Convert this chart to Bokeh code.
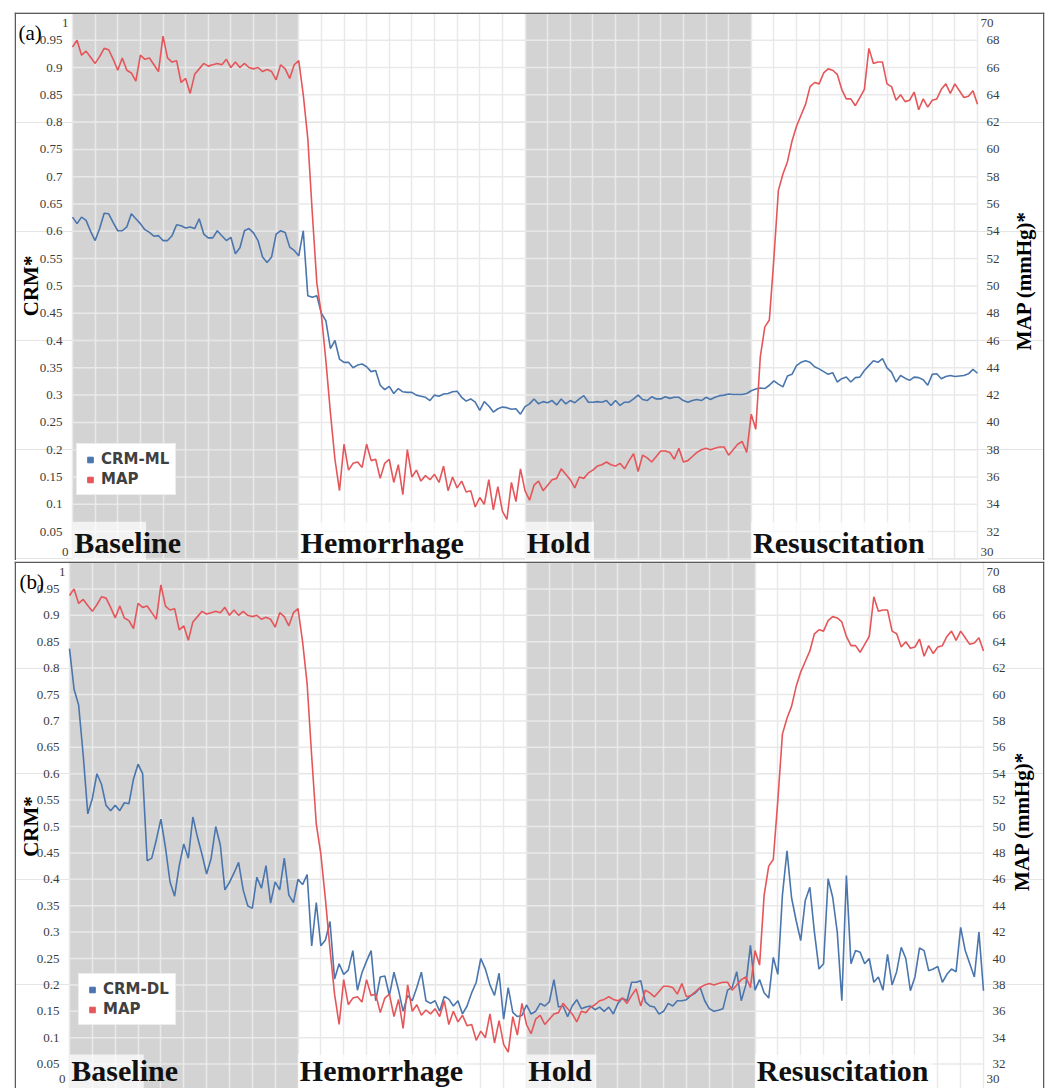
import numpy as np
from bokeh.plotting import figure
from bokeh.models import Range1d, LinearAxis, FixedTicker, Grid, Label, Legend, LegendItem, Span
from bokeh.layouts import column
from bokeh.embed import file_html
from bokeh.resources import INLINE
from bokeh.core.properties import value

# ---------------- data ----------------
phase_names = ["Baseline", "Hemorrhage", "Hold", "Resuscitation"]
phase_start = [0, 10, 20, 30]
phase_end = [10, 20, 30, 40]
phase_shaded = [True, False, True, False]

map_mmhg = [
    67.5, 68.0, 66.9, 67.2, 66.75, 66.3, 66.8, 67.4, 67.3, 66.6,
    65.8, 66.7, 65.8, 65.6, 65.0, 66.9, 66.6, 66.7, 66.2, 65.7,
    68.3, 66.7, 66.4, 66.5, 64.9, 65.2, 64.1, 65.5, 65.9, 66.3,
    66.1, 66.2, 66.3, 66.2, 66.6, 66.0, 66.4, 66.0, 66.3, 66.0,
    65.9, 66.0, 65.7, 65.85, 65.7, 65.1, 66.2, 65.9, 65.2, 66.2,
    66.5,
    64.0, 60.8, 55.3, 50.2, 47.9, 44.5, 40.7, 37.3, 35.0, 38.4,
    36.5, 37.0, 37.1, 36.7, 38.4, 37.2, 37.3, 35.9, 37.0, 37.3,
    35.6, 36.9, 34.7, 38.0, 36.0, 36.5, 35.7, 36.1, 35.8, 36.2,
    35.6, 36.8, 35.0, 36.0, 35.2, 35.7, 34.9, 35.0, 33.8, 34.5,
    34.0, 35.8, 33.6, 35.3, 33.5, 32.9, 35.6, 34.2, 36.6, 35.0,
    34.3, 35.4, 35.7, 35.0, 35.4, 35.8, 35.9, 36.6, 36.2, 35.8,
    35.2, 36.0, 35.9, 36.3, 36.5, 36.8, 36.9, 37.1, 36.9, 36.8,
    37.0, 36.6, 37.2, 37.7, 36.4, 37.6, 37.4, 37.1, 37.5, 37.9,
    37.9, 37.8, 37.3, 38.1, 37.1, 37.2, 37.5, 37.8, 38.0, 38.1,
    38.0, 38.1, 38.2, 38.2, 37.6, 38.0, 38.4, 38.6, 37.8, 40.6,
    39.5, 44.8, 47.0, 47.5, 52.0, 57.0, 58.2, 59.1, 60.6, 61.7,
    62.5, 63.3, 64.6, 64.9, 64.8, 65.6, 65.9, 65.8, 65.5, 64.4,
    63.7, 63.7, 63.2, 63.8, 64.4, 67.4, 66.3, 66.4, 66.4, 64.8,
    64.6, 63.6, 64.0, 63.5, 63.6, 64.2, 62.9, 63.7, 63.1, 63.6,
    63.7, 64.4, 64.8, 64.1, 64.8, 64.3, 63.8, 63.9, 64.3, 63.3,
]

crm_ml = [
    0.626, 0.614, 0.626, 0.620, 0.600, 0.583, 0.605, 0.633, 0.632, 0.616,
    0.601, 0.601, 0.608, 0.632, 0.623, 0.614, 0.603, 0.598, 0.591, 0.592,
    0.583, 0.583, 0.592, 0.612, 0.610, 0.606, 0.608, 0.605, 0.623, 0.595,
    0.588, 0.588, 0.601, 0.592, 0.583, 0.589, 0.559, 0.570, 0.601, 0.605,
    0.597, 0.583, 0.553, 0.543, 0.553, 0.595, 0.601, 0.598, 0.571, 0.565,
    0.555,
    0.601, 0.482, 0.479, 0.482, 0.450, 0.436, 0.385, 0.400, 0.366, 0.360,
    0.360, 0.350, 0.355, 0.357, 0.352, 0.343, 0.345, 0.318, 0.310, 0.316,
    0.303, 0.312, 0.306, 0.305, 0.305, 0.300, 0.298, 0.296, 0.290, 0.300,
    0.298, 0.302, 0.303, 0.306, 0.307, 0.296, 0.289, 0.293, 0.287, 0.272,
    0.288, 0.280, 0.269, 0.275, 0.278, 0.277, 0.274, 0.275, 0.265, 0.279,
    0.284, 0.293, 0.284, 0.288, 0.286, 0.290, 0.282, 0.293, 0.284, 0.290,
    0.286, 0.293, 0.299, 0.287, 0.287, 0.288, 0.287, 0.290, 0.281, 0.290,
    0.281, 0.287, 0.287, 0.293, 0.300, 0.292, 0.290, 0.297, 0.293, 0.293,
    0.297, 0.294, 0.296, 0.296, 0.290, 0.287, 0.290, 0.292, 0.290, 0.296,
    0.292, 0.296, 0.299, 0.300, 0.302, 0.301, 0.301, 0.301, 0.303, 0.308,
    0.311, 0.313, 0.312, 0.318, 0.326, 0.320, 0.315, 0.335, 0.338, 0.354,
    0.360, 0.363, 0.360, 0.352, 0.348, 0.343, 0.338, 0.341, 0.324, 0.330,
    0.333, 0.324, 0.332, 0.333, 0.345, 0.354, 0.363, 0.360, 0.367, 0.350,
    0.342, 0.324, 0.336, 0.331, 0.327, 0.333, 0.332, 0.328, 0.318, 0.338,
    0.339, 0.330, 0.334, 0.336, 0.334, 0.335, 0.336, 0.339, 0.347, 0.340,
]

crm_dl = [
    0.837, 0.760, 0.730, 0.635, 0.524, 0.553, 0.600, 0.580, 0.540, 0.530,
    0.540, 0.530, 0.545, 0.543, 0.590, 0.618, 0.600, 0.435, 0.440, 0.475,
    0.514, 0.460, 0.395, 0.368, 0.425, 0.467, 0.440, 0.518, 0.480, 0.447,
    0.410, 0.440, 0.500, 0.465, 0.380, 0.394, 0.412, 0.432, 0.380, 0.350,
    0.345, 0.404, 0.383, 0.426, 0.355, 0.395, 0.380, 0.440, 0.370, 0.356,
    0.400,
    0.390, 0.409, 0.274, 0.356, 0.274, 0.285, 0.320, 0.211, 0.240, 0.220,
    0.228, 0.265, 0.190, 0.223, 0.245, 0.265, 0.170, 0.215, 0.217, 0.180,
    0.224, 0.190, 0.150, 0.180, 0.170, 0.195, 0.224, 0.170, 0.165, 0.170,
    0.150, 0.178, 0.173, 0.160, 0.170, 0.145, 0.160, 0.185, 0.205, 0.250,
    0.230, 0.200, 0.180, 0.222, 0.135, 0.195, 0.148, 0.140, 0.142, 0.162,
    0.145, 0.150, 0.165, 0.160, 0.168, 0.210, 0.158, 0.160, 0.140, 0.160,
    0.172, 0.155, 0.158, 0.160, 0.153, 0.158, 0.150, 0.158, 0.145, 0.165,
    0.175, 0.170, 0.205, 0.205, 0.208, 0.168, 0.160, 0.158, 0.145, 0.150,
    0.165, 0.160, 0.170, 0.170, 0.172, 0.180, 0.185, 0.195, 0.170, 0.155,
    0.150, 0.152, 0.155, 0.190, 0.195, 0.225, 0.170, 0.200, 0.275, 0.190,
    0.210, 0.185, 0.175, 0.252, 0.220, 0.370, 0.454, 0.365, 0.322, 0.284,
    0.360, 0.385, 0.300, 0.230, 0.240, 0.401, 0.366, 0.300, 0.170, 0.407,
    0.240, 0.265, 0.262, 0.240, 0.250, 0.205, 0.215, 0.190, 0.258, 0.200,
    0.225, 0.271, 0.250, 0.189, 0.215, 0.270, 0.265, 0.227, 0.230, 0.235,
    0.205, 0.220, 0.230, 0.225, 0.309, 0.265, 0.240, 0.215, 0.300, 0.189,
]

crm_ticks = [round(0.05 * i, 2) for i in range(21)]
map_ticks = list(range(30, 71, 2))
time_steps = np.arange(len(map_mmhg)) * 0.2

# ---------------- style ----------------
BLUE = "#4a76ad"
RED = "#e5565a"
SHADE = "#d3d3d3"
GRID = "#e9e9e9"
BORDER = "#5a5a5a"
SERIF = "Liberation Serif"
TICKC = "#3c3c3c"
W = 1046
FRAME_L = 14
FRAME_R = 1044
BOX_W = [3.25, 7.3, 3.05, 7.8]


def make_panel(tag, crm, crm_name, canvas_top, canvas_h, mbt,
               x0_px, x40_px, y1_px, y0_px, legend_xy, tag_px, crm_px, title_px,
               text_y, zero_y):
    frame_t = canvas_top + mbt
    frame_b = canvas_top + canvas_h
    ppu = (x40_px - x0_px) / 40.0
    ppy = (y0_px - y1_px)

    def dx(px):
        return (px - x0_px) / ppu

    def dy(py):
        return (y0_px - py) / ppy

    p = figure(width=W, height=canvas_h,
               x_range=Range1d(dx(FRAME_L), dx(FRAME_R)),
               y_range=Range1d(dy(frame_b), dy(frame_t)),
               x_axis_location=None, y_axis_location=None,
               toolbar_location=None, output_backend="svg",
               min_border_left=FRAME_L, min_border_right=W - FRAME_R,
               min_border_top=mbt, min_border_bottom=0)
    p.extra_y_ranges = {"map": Range1d(30 + 40 * dy(frame_b), 30 + 40 * dy(frame_t))}
    p.outline_line_color = None
    p.background_fill_color = "white"
    p.border_fill_color = "white"

    sh_l = [s for s, f in zip(phase_start, phase_shaded) if f]
    sh_r = [e for e, f in zip(phase_end, phase_shaded) if f]
    p.quad(left=sh_l, right=sh_r, bottom=dy(frame_b), top=dy(frame_t),
           fill_color=SHADE, line_color=None, level="image")

    # grid: vertical lines full height, horizontal lines only over the data area
    xg = Grid(dimension=0, ticker=FixedTicker(ticks=list(range(41))),
              grid_line_color=GRID, grid_line_width=1.5)
    p.add_layout(xg)
    p.segment(x0=0, x1=40, y0=crm_ticks, y1=crm_ticks, line_color=GRID,
              line_width=1.5, level="underlay")

    # label backgrounds
    p.quad(left=phase_start, right=[s + w for s, w in zip(phase_start, BOX_W)],
           bottom=dy(frame_b), top=0.068, fill_color="white", fill_alpha=0.7,
           line_color=None)

    p.line(time_steps, crm, color=BLUE, line_width=1.6)
    p.line(time_steps, map_mmhg, y_range_name="map", color=RED, line_width=1.6)

    p.text(x=[s + 0.08 for s in phase_start], y=[text_y] * 4, text=phase_names,
           text_font=value(SERIF), text_font_style="bold", text_font_size="30px",
           text_color="#111111", text_baseline="bottom", text_align="left")

    # left axis (fixed at x = 0)
    ya = LinearAxis(fixed_location=0, ticker=FixedTicker(ticks=crm_ticks))
    ya.major_label_overrides = {t: ("" if t in (0.0, 1.0) else f"{t:g}") for t in crm_ticks}
    ya.major_label_text_font = SERIF
    ya.major_label_text_font_size = "13px"
    ya.major_label_text_color = TICKC
    ya.major_label_standoff = 4
    ya.axis_line_color = None
    ya.major_tick_line_color = None
    ya.minor_tick_line_color = None
    p.add_layout(ya, "left")

    # right axis (fixed at x = 40)
    ra = LinearAxis(y_range_name="map", fixed_location=40,
                    ticker=FixedTicker(ticks=map_ticks))
    ra.major_label_overrides = {t: ("" if t in (30, 70) else str(t)) for t in map_ticks}
    ra.major_label_text_font = SERIF
    ra.major_label_text_font_size = "13px"
    ra.major_label_text_color = TICKC
    ra.major_label_standoff = 3
    ra.axis_line_color = None
    ra.major_tick_line_color = None
    ra.minor_tick_line_color = None
    p.add_layout(ra, "right")

    lab = dict(text_font=SERIF, text_font_size="13px", text_color=TICKC, text_baseline="middle")
    p.add_layout(Label(x=0, y=0.982, x_offset=-4, text="1", text_align="right", **lab))
    p.add_layout(Label(x=0, y=zero_y, x_offset=-4, text="0", text_align="right", **lab))
    p.add_layout(Label(x=40, y=0.982, x_offset=3, text="70", text_align="left", **lab))
    p.add_layout(Label(x=40, y=zero_y, x_offset=3, text="30", text_align="left", **lab))

    p.add_layout(Label(x=dx(tag_px), y=0.964, text=tag, text_font=SERIF,
                       text_font_size="21px", text_color="#000000",
                       text_baseline="middle", text_align="left"))
    p.add_layout(Label(x=dx(crm_px), y=0.5, text="CRM*",
                       angle=np.pi / 2, text_font=SERIF, text_font_style="bold",
                       text_font_size="21px", text_color="#000000",
                       text_baseline="middle", text_align="center"))
    p.add_layout(Label(x=dx(title_px), y=0.51, text="MAP (mmHg)*",
                       angle=np.pi / 2, text_font=SERIF, text_font_style="bold",
                       text_font_size="21px", text_color="#000000",
                       text_baseline="middle", text_align="center"))

    # panel border
    p.add_layout(Span(location=dx(FRAME_L + 0.75), dimension="height",
                      line_color=BORDER, line_width=1.5))
    p.add_layout(Span(location=dx(FRAME_R - 0.75), dimension="height",
                      line_color=BORDER, line_width=1.5))
    p.add_layout(Span(location=dy(frame_t + 0.75), dimension="width",
                      line_color=BORDER, line_width=1.5))

    # legend
    sq_b = p.scatter(x=[np.nan], y=[np.nan], marker="square", size=6, color=BLUE)
    sq_r = p.scatter(x=[np.nan], y=[np.nan], marker="square", size=6, color=RED)
    leg = Legend(items=[LegendItem(label=crm_name, renderers=[sq_b]),
                        LegendItem(label="MAP", renderers=[sq_r])],
                 location=legend_xy, orientation="vertical",
                 border_line_color="#dcdcdc", border_line_width=1,
                 background_fill_color="white", background_fill_alpha=1,
                 label_text_font="DejaVu Sans", label_text_font_style="bold",
                 label_text_font_size="15px", label_text_color="#404040",
                 glyph_width=14, glyph_height=15, label_standoff=4,
                 padding=6, spacing=2, label_height=17, margin=0)
    p.add_layout(leg)
    return p


pa = make_panel("(a)", crm_ml, "CRM-ML", 0, 560, 12,
                72, 977, 12.4, 558.4, (62, 65), 18, 30, 1023, 0.0, 0.013)
pb = make_panel("(b)", crm_dl, "CRM-DL", 560, 528, 1,
                69, 983, 562, 1090, (64, 63), 19, 30, 1021, 0.007, 0.021)

layout = column(pa, pb, spacing=0)
open("out.html", "w").write(file_html(layout, INLINE))
